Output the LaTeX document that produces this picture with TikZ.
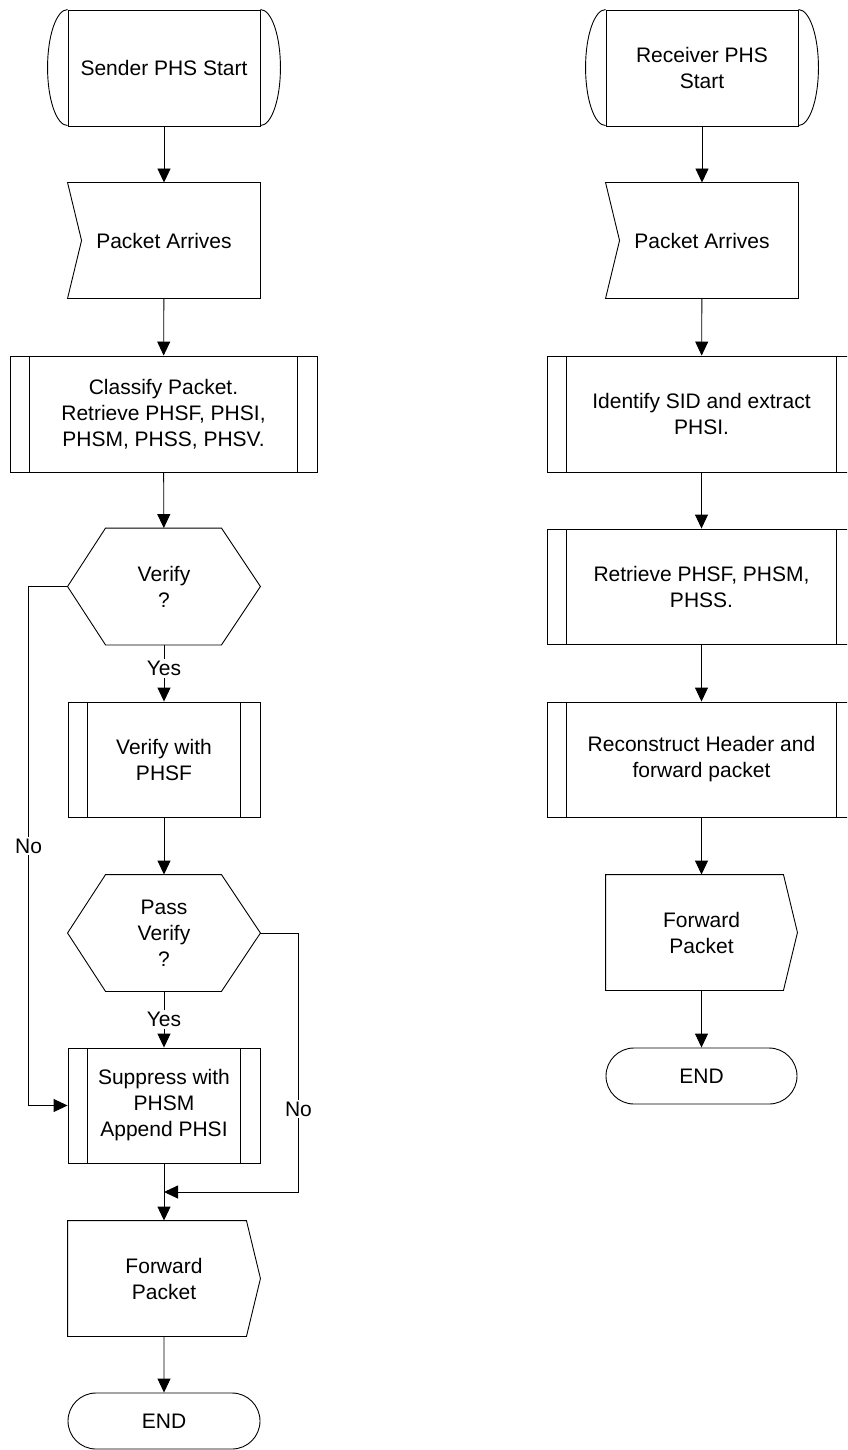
\documentclass[tikz,border=0pt]{standalone}
\usepackage{fontspec}
\setmainfont{Liberation Sans}
\usetikzlibrary{arrows.meta,shapes.misc}

\tikzset{
  base/.style={minimum width=192pt, minimum height=115pt, inner sep=0pt, align=center},
  startbox/.style={base, draw, minimum height=116pt,
    append after command={\pgfextra{
      \draw (\tikzlastnode.north west) arc[start angle=90, end angle=270, x radius=20pt, y radius=58pt];
      \draw (\tikzlastnode.north east) arc[start angle=90, end angle=-90, x radius=20pt, y radius=58pt];}}},
  inbox/.style={base,
    append after command={\pgfextra{
      \draw (\tikzlastnode.north west) -- (\tikzlastnode.north east) -- (\tikzlastnode.south east)
        -- (\tikzlastnode.south west) -- ([xshift=14pt]\tikzlastnode.west) -- cycle;}}},
  outbox/.style={base,
    append after command={\pgfextra{
      \draw (\tikzlastnode.north west) -- ([xshift=-14pt]\tikzlastnode.north east) -- (\tikzlastnode.east)
        -- ([xshift=-14pt]\tikzlastnode.south east) -- (\tikzlastnode.south west) -- cycle;}}},
  decision/.style={base, minimum height=116pt,
    append after command={\pgfextra{
      \draw (\tikzlastnode.west) -- ([xshift=38pt]\tikzlastnode.north west) -- ([xshift=-39pt]\tikzlastnode.north east)
        -- (\tikzlastnode.east) -- ([xshift=-39pt]\tikzlastnode.south east) -- ([xshift=38pt]\tikzlastnode.south west) -- cycle;}}},
  procbox/.style={base, draw,
    path picture={\draw ([xshift=19.5pt]path picture bounding box.north west) -- ([xshift=19.5pt]path picture bounding box.south west)
      ([xshift=-19.5pt]path picture bounding box.north east) -- ([xshift=-19.5pt]path picture bounding box.south east);}},
  endbox/.style={base, draw, rounded rectangle, minimum height=56pt},
  lbl/.style={fill=white, inner sep=2pt}
}

\begin{document}
\begin{tikzpicture}[x=1pt, y=-1pt, >={Triangle[width=13pt,length=14pt]}, line width=0.9pt,
    font=\fontsize{21}{26}\selectfont]
  \useasboundingbox (0,0) rectangle (847,1450);
  \clip (0,0) rectangle (847,1450);

  % Sender
  \node[startbox] (sstart) at (164,68) {Sender PHS Start};
  \node[inbox] (sarrive) at (164,240.5) {Packet Arrives};
  \node[procbox, minimum width=307pt, minimum height=116pt] (classify) at (163.5,414)
    {Classify Packet.\\Retrieve PHSF, PHSI,\\PHSM, PHSS, PHSV.};
  \node[decision] (verify) at (164,586.5) {Verify\\?};
  \node[procbox] (vphsf) at (164,759.5) {Verify with\\PHSF};
  \node[decision] (passv) at (164,933) {Pass\\Verify\\?};
  \node[procbox] (suppress) at (164,1105.5) {Suppress with\\PHSM\\Append PHSI};
  \node[outbox] (sfwd) at (164,1278.5) {Forward\\Packet};
  \node[endbox] (send) at (164,1421) {END};
  \coordinate (join) at (164,1192);

  % Empfaenger
  \node[startbox] (rstart) at (702,68) {Receiver PHS\\Start};
  \node[inbox] (rarrive) at (702,240.5) {Packet Arrives};
  \node[procbox, minimum width=309pt, minimum height=116pt] (identify) at (701.5,414)
    {Identify SID and extract\\PHSI.};
  \node[procbox, minimum width=309pt] (retrieve) at (701.5,586.5) {Retrieve PHSF, PHSM,\\PHSS.};
  \node[procbox, minimum width=309pt] (rebuild) at (701.5,759.5) {Reconstruct Header and\\forward packet};
  \node[outbox, minimum width=191pt] (rfwd) at (701.5,932.5) {Forward\\Packet};
  \node[endbox, minimum width=191pt] (rend) at (701.5,1076) {END};

  % Verbindungen Sender
  \draw[->] (sstart) -- (sarrive);
  \draw[->] (sarrive) -- (classify);
  \draw[->] (classify) -- (verify);
  \draw[->] (verify) -- node[lbl, pos=0.42] {Yes} (vphsf);
  \draw[->] (vphsf) -- (passv);
  \draw[->] (passv) -- node[lbl] {Yes} (suppress);
  \draw[->] (verify.west) -- ++(-39,0) |- node[lbl, pos=0.25] {No} (suppress.west);
  \draw[->] (passv.east) -- ++(38,0) |- node[lbl, pos=0.34] {No} (join);
  \draw[->] (suppress) -- (sfwd);
  \draw[->] (sfwd) -- (send);

  % Verbindungen Empfaenger
  \draw[->] (rstart) -- (rarrive);
  \draw[->] (rarrive) -- (identify);
  \draw[->] (identify) -- (retrieve);
  \draw[->] (retrieve) -- (rebuild);
  \draw[->] (rebuild) -- (rfwd);
  \draw[->] (rfwd) -- (rend);
\end{tikzpicture}
\end{document}
